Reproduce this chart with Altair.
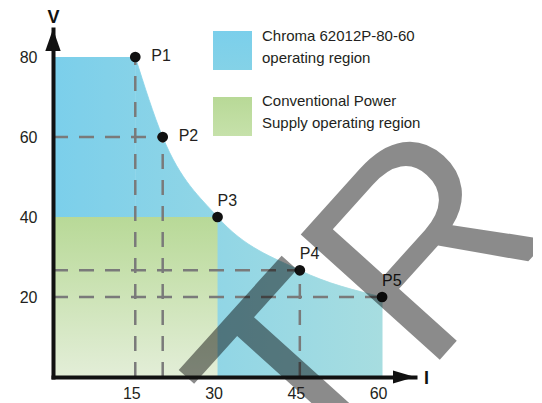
import altair as alt
import pandas as pd

# ---- data ----
point_names = ["P1", "P2", "P3", "P4", "P5"]
current = [15, 20, 30, 45, 60]          # I (A)
voltage = [80, 60, 40, 26.67, 20]       # V (V)  -> constant 1200 W curve

flat_I = [0, 15]                         # flat top of the Chroma region
flat_V = [0, 80]

conv_I = [0, 30]                         # conventional supply rectangle
conv_V = [0, 40]

h_guide_I = [20, 45, 60]                 # horizontal dashed guides end at these I
h_guide_V = [60, 26.67, 20]
v_guide_I = [15, 20, 45]                 # vertical dashed guides
v_guide_V = [80, 60, 26.67]

x_ticks = [15, 30, 45, 60]
y_ticks = [20, 40, 60, 80]

legend_labels = ["Chroma 62012P-80-60\noperating region",
                 "Conventional Power\nSupply operating region"]
watermark_text = ["TR"]

# ---- tables ----
df_pts = pd.DataFrame({"name": point_names, "I": current, "V": voltage})
df_flat = pd.DataFrame({"I0": [flat_I[0]], "I1": [flat_I[1]], "V0": [flat_V[0]], "V1": [flat_V[1]]})
df_conv = pd.DataFrame({"I0": [conv_I[0]], "I1": [conv_I[1]], "V0": [conv_V[0]], "V1": [conv_V[1]]})
df_h = pd.DataFrame({"I0": [0] * len(h_guide_I), "I1": h_guide_I, "V": h_guide_V})
df_v = pd.DataFrame({"I": v_guide_I, "V0": [0] * len(v_guide_I), "V1": v_guide_V})
df_leg1 = pd.DataFrame({"label": [legend_labels[0]]})
df_leg2 = pd.DataFrame({"label": [legend_labels[1]]})
df_wm = pd.DataFrame({"t": watermark_text})

W, H = 362, 348
FONT = "Liberation Sans"
TXT = "#231f20"

xs = alt.Scale(domain=[0, 66], nice=False, zero=False)
ys = alt.Scale(domain=[0, 87], nice=False)


def grad_h(c0, c1):
    return alt.Gradient(gradient="linear", x1=0, x2=1, y1=0, y2=0,
                        stops=[alt.GradientStop(color=c0, offset=0),
                               alt.GradientStop(color=c1, offset=1)])


def grad_v(c0, c1):
    return alt.Gradient(gradient="linear", x1=0, x2=0, y1=0, y2=1,
                        stops=[alt.GradientStop(color=c0, offset=0),
                               alt.GradientStop(color=c1, offset=1)])


x_axis = alt.Axis(values=x_ticks, title="I", titleX=373, titleY=1, titleAngle=0,
                  titleAlign="center", titleBaseline="middle", titleFontSize=18,
                  titleFontWeight="bold", titleColor="#111", titleFont=FONT,
                  ticks=False, tickSize=0, grid=False, domainWidth=4, domainColor="#111",
                  domainCap="square", labelFontSize=16, labelPadding=8, labelOffset=-4,
                  labelColor=TXT, labelFont=FONT, zindex=1)
y_axis = alt.Axis(values=y_ticks, title="V", titleX=0, titleY=-12, titleAngle=0,
                  titleAlign="center", titleBaseline="middle", titleFontSize=18,
                  titleFontWeight="bold", titleColor="#111", titleFont=FONT,
                  ticks=False, tickSize=0, grid=False, domainWidth=4, domainColor="#111",
                  domainCap="square", labelFontSize=16, labelPadding=16, labelColor=TXT,
                  labelFont=FONT, zindex=1)


def X(f):
    return alt.X(f, scale=xs, axis=x_axis)


def Y(f):
    return alt.Y(f, scale=ys, axis=y_axis)


# blue region, flat part
blue_flat = alt.Chart(df_flat).mark_rect(fill=grad_h("#7bcfeb", "#86d2e8")).encode(
    x=X("I0:Q"), x2="I1", y=Y("V0:Q"), y2="V1",
)

# blue region, constant power curve
blue_curve = alt.Chart(df_pts).mark_area(
    interpolate="monotone", fill=grad_h("#86d2e8", "#a7dde0"),
    stroke=grad_h("#86d2e8", "#a7dde0"), strokeWidth=0.8
).encode(x=X("I:Q"), y=Y("V:Q"))

green = alt.Chart(df_conv).mark_rect(fill=grad_v("#b8d997", "#e3eed8")).encode(
    x=X("I0:Q"), x2="I1", y=Y("V0:Q"), y2="V1",
)

dash = dict(strokeDash=[15, 11], color="#7a7a7a", strokeWidth=2.5)
h_lines = alt.Chart(df_h).mark_rule(**dash).encode(
    x=X("I0:Q"), x2="I1", y=Y("V:Q"),
)
v_lines = alt.Chart(df_v).mark_rule(**dash).encode(
    x=X("I:Q"), y=Y("V0:Q"), y2="V1",
)

dots = alt.Chart(df_pts).mark_circle(size=115, color="#111", opacity=1).encode(
    x=X("I:Q"), y=Y("V:Q"),
)

lab_right = alt.Chart(df_pts).transform_filter(
    alt.FieldOneOfPredicate(field="name", oneOf=point_names[:2])
).mark_text(align="left", baseline="middle", dx=16, dy=-1, fontSize=16,
            font=FONT, color=TXT).encode(
    x=X("I:Q"), y=Y("V:Q"), text="name:N",
)
lab_above = alt.Chart(df_pts).transform_filter(
    alt.FieldOneOfPredicate(field="name", oneOf=point_names[2:])
).mark_text(align="left", baseline="middle", dx=0, dy=-16, fontSize=16,
            font=FONT, color=TXT).encode(
    x=X("I:Q"), y=Y("V:Q"), text="name:N",
)

arrow_y = alt.Chart(df_leg1).mark_point(
    shape="M0,-1L0.7,1L-0.7,1Z", size=484, filled=True, color="#111", opacity=1
).encode(x=alt.value(0), y=alt.value(11))
arrow_x = alt.Chart(df_leg1).mark_point(
    shape="M1,0L-1,-0.6L-1,0.6Z", size=484, filled=True, color="#111", opacity=1
).encode(x=alt.value(W - 11), y=alt.value(H))

sw1 = alt.Chart(df_leg1).mark_rect(fill=grad_v("#7bcfeb", "#84d2e7")).encode(
    x=alt.value(160), x2=alt.value(199), y=alt.value(2), y2=alt.value(41))
sw2 = alt.Chart(df_leg2).mark_rect(fill=grad_v("#b8d997", "#c6e1aa")).encode(
    x=alt.value(160), x2=alt.value(199), y=alt.value(68), y2=alt.value(107))
lt1 = alt.Chart(df_leg1).mark_text(align="left", baseline="top", lineBreak="\n",
                                   lineHeight=21.5, fontSize=15, font=FONT, color=TXT).encode(
    x=alt.value(209), y=alt.value(0), text="label:N")
lt2 = alt.Chart(df_leg2).mark_text(align="left", baseline="top", lineBreak="\n",
                                   lineHeight=21.5, fontSize=15, font=FONT, color=TXT).encode(
    x=alt.value(209), y=alt.value(65), text="label:N")

wm = alt.Chart(df_wm).mark_text(align="center", baseline="alphabetic", angle=312,
                                fontSize=272, font=FONT, color="#000", opacity=0.45).encode(
    x=alt.value(382), y=alt.value(336), text="t:N")

chart = alt.layer(
    blue_flat, blue_curve, green, h_lines, v_lines, dots, lab_right, lab_above,
    arrow_y, arrow_x, sw1, sw2, lt1, lt2, wm
).properties(
    width=W, height=H,
    autosize=alt.AutoSizeParams(type="none"),
    padding={"left": 45, "top": 21, "right": 118, "bottom": 26},
    background="white",
).configure_view(stroke=None)

chart.save("out.html", embed_options={"renderer": "svg", "actions": False})
